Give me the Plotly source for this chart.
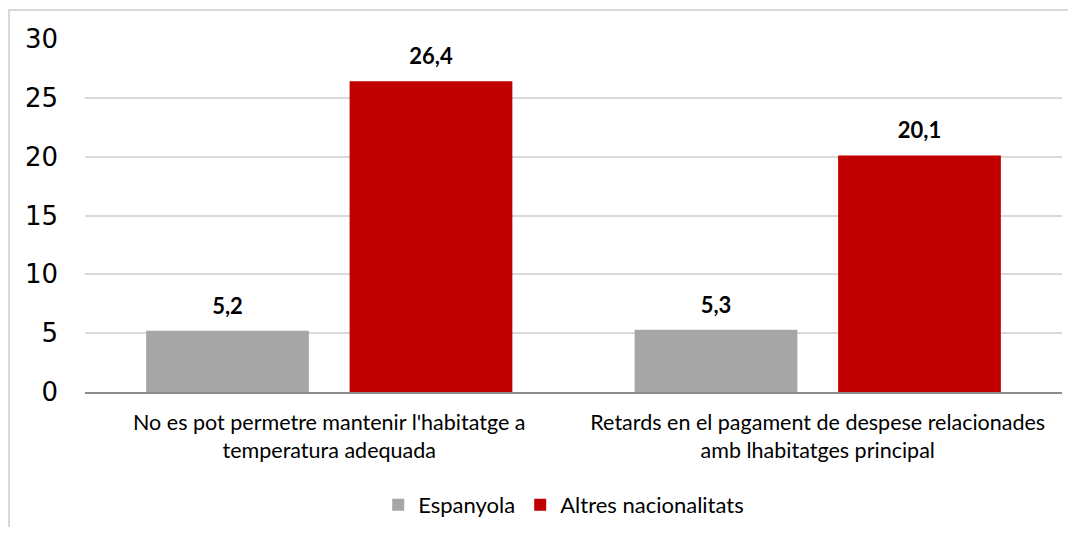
import plotly.graph_objects as go

categories = [
    "No es pot permetre mantenir l'habitatge a<br>temperatura adequada",
    "Retards en el pagament de despese relacionades<br>amb lhabitatges principal",
]
espanyola = [5.2, 5.3]
altres = [26.4, 20.1]
y_ticks = [0, 5, 10, 15, 20, 25, 30]

label_font = dict(family="Lato", size=21.5, color="#000000")
value_font = dict(family="Lato", size=22, color="#000000")

fig = go.Figure()
for name, vals, color, grp in [("Espanyola", espanyola, "#a6a6a6", "a"),
                               ("Altres nacionalitats", altres, "#c00000", "b")]:
    fig.add_trace(go.Bar(
        name=name, x=categories, y=vals, offsetgroup=grp, alignmentgroup="g",
        marker=dict(color=color, line=dict(width=0)),
    ))
for vals, grp in [(espanyola, "a"), (altres, "b")]:
    fig.add_trace(go.Scatter(
        x=categories, y=vals, offsetgroup=grp, alignmentgroup="g",
        mode="markers+text", marker=dict(size=17, opacity=0),
        texttemplate="<b>%{y:.1f}</b>", textposition="top center",
        textfont=value_font, showlegend=False, cliponaxis=False, hoverinfo="skip",
    ))

fig.update_layout(
    width=1060, height=519,
    margin=dict(l=77, r=6, t=31, b=135, autoexpand=False),
    paper_bgcolor="white", plot_bgcolor="white",
    barmode="group", bargap=0.167, bargroupgap=0.2,
    scattermode="group", scattergap=0.167,
    separators=",.",
    showlegend=True,
    legend=dict(orientation="h", x=0.49, xanchor="center", y=-0.32, yanchor="middle",
                font=dict(family="Lato", size=22, color="#000000"),
                itemwidth=30, traceorder="normal"),
    font=dict(family="Lato", color="#000000"),
)
fig.update_xaxes(
    showline=True, linecolor="#8c8c8c", linewidth=2, automargin=False,
    tickfont=label_font, ticks="", showgrid=False, ticklabelstandoff=10,
)
fig.update_yaxes(
    range=[0, 30], tickvals=y_ticks, showgrid=True, gridcolor="#d9d9d9", gridwidth=2,
    tickfont=dict(family="DejaVu Sans", size=26, color="#000000"), automargin=False,
    showline=False, zeroline=False, ticks="", ticklabelstandoff=26,
)
fig.add_shape(type="rect", xref="paper", yref="paper",
              x0=-0.0778, x1=1.05, y0=-0.5, y1=1.082,
              line=dict(color="#d9d9d9", width=2), fillcolor="rgba(0,0,0,0)", layer="below")

fig.write_html("out.html")
